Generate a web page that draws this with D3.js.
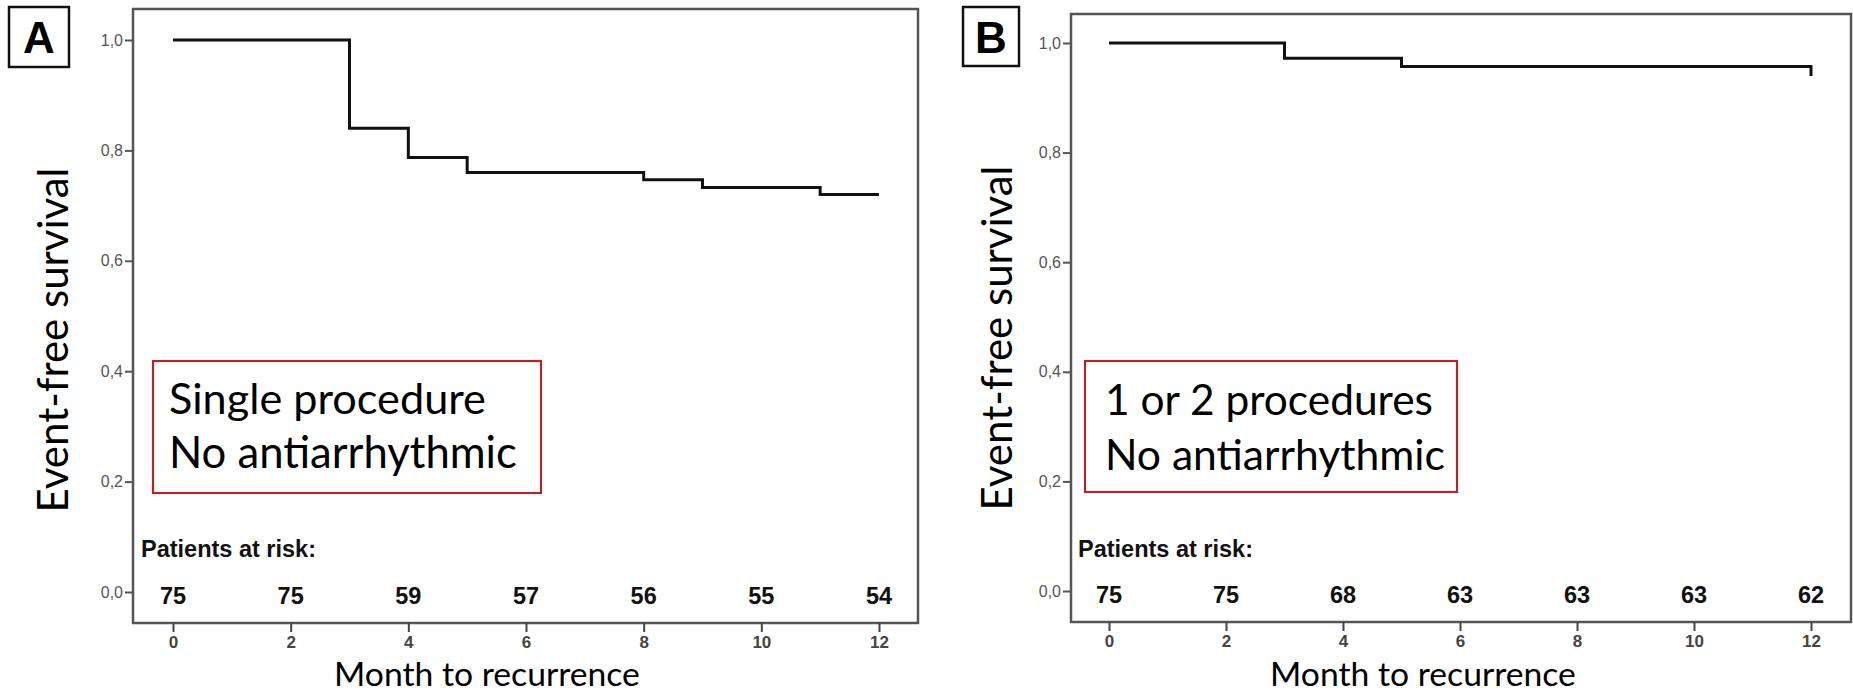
<!DOCTYPE html>
<html>
<head>
<meta charset="utf-8">
<script src="https://cdn.jsdelivr.net/npm/d3@7"></script>
<style>
  html, body { margin: 0; padding: 0; background: #fff; }
  svg { display: block; }
</style>
</head>
<body>
<svg id="chart" width="1853" height="693"></svg>
<script>
// ---------------- DATA ----------------
const monthTicks = [0, 2, 4, 6, 8, 10, 12];
const survivalTicks = [0, 0.2, 0.4, 0.6, 0.8, 1.0];
const panelLetters = ["A", "B"];

const atRiskA = [75, 75, 59, 57, 56, 55, 54];
const atRiskB = [75, 75, 68, 63, 63, 63, 62];

const timesA = [0, 3, 4, 5, 8, 9, 11, 12];
const survA  = [1.0, 0.84, 0.787, 0.76, 0.747, 0.733, 0.72, 0.72];

const timesB = [0, 3, 5, 12];
const survB  = [1.0, 0.972, 0.957, 0.94];

const legendA = ["Single procedure", "No antiarrhythmic"];
const legendB = ["1 or 2 procedures", "No antiarrhythmic"];

const yTitle = "Event-free survival";
const xTitle = "Month to recurrence";
const atRiskTitle = "Patients at risk:";

// ---------------- LAYOUT ----------------
const panels = [
  { letter: panelLetters[0], times: timesA, surv: survA, risk: atRiskA, legend: legendA,
    frame: {x0: 133, x1: 918, y0: 9, y1: 623},
    xr: [173, 879], yr: [592, 40],
    box: {x: 9, y: 7, w: 60, h: 60},
    legBox: {x: 153, y: 361, w: 388, h: 132}, legTextX: 169, legBase: [414, 468],
    yTitle: {x: 68, y: 340}, xTitleX: 487, riskX: 141 },
  { letter: panelLetters[1], times: timesB, surv: survB, risk: atRiskB, legend: legendB,
    frame: {x0: 1071, x1: 1851, y0: 14, y1: 622},
    xr: [1109, 1811], yr: [591, 43],
    box: {x: 963, y: 7, w: 56, h: 59},
    legBox: {x: 1085, y: 361, w: 372, h: 131}, legTextX: 1105, legBase: [415, 470],
    yTitle: {x: 1012, y: 338}, xTitleX: 1423, riskX: 1078 }
];

const svg = d3.select("#chart");
const calibri = "Lato, 'Open Sans', sans-serif";
const arial = "'Liberation Sans', Arial, sans-serif";

function fitText(sel, target) {
  const n = sel.node();
  const w = n.getComputedTextLength();
  const fs = parseFloat(sel.attr("font-size"));
  if (w > 0) sel.attr("font-size", (fs * target / w).toFixed(2));
}

panels.forEach(p => {
  const g = svg.append("g");
  const x = d3.scaleLinear().domain([0, 12]).range(p.xr);
  const y = d3.scaleLinear().domain([0, 1]).range(p.yr);

  // frame
  g.append("rect")
    .attr("x", p.frame.x0).attr("y", p.frame.y0)
    .attr("width", p.frame.x1 - p.frame.x0).attr("height", p.frame.y1 - p.frame.y0)
    .attr("fill", "none").attr("stroke", "#555").attr("stroke-width", 2.5);

  // y axis
  const yAxis = d3.axisLeft(y).tickValues(survivalTicks)
    .tickFormat(d => d3.format(".1f")(d).replace(".", ","))
    .tickSize(8).tickSizeOuter(0).tickPadding(2);
  const ya = g.append("g").attr("transform", `translate(${p.frame.x0},0)`).call(yAxis);
  ya.select(".domain").remove();
  ya.selectAll("line").attr("stroke", "#555").attr("stroke-width", 2);
  ya.selectAll("text").attr("font-family", arial).attr("font-size", 16).attr("fill", "#555");

  // x axis
  const xAxis = d3.axisBottom(x).tickValues(monthTicks).tickFormat(d3.format("d"))
    .tickSize(9).tickSizeOuter(0).tickPadding(4);
  const xa = g.append("g").attr("transform", `translate(0,${p.frame.y1})`).call(xAxis);
  xa.select(".domain").remove();
  xa.selectAll("line").attr("stroke", "#444").attr("stroke-width", 2);
  xa.selectAll("text").attr("font-family", arial).attr("font-size", 17)
    .attr("font-weight", "bold").attr("fill", "#444");

  // survival step line
  const pts = p.times.map((t, i) => [t, p.surv[i]]);
  const line = d3.line().x(d => x(d[0])).y(d => y(d[1])).curve(d3.curveStepAfter);
  g.append("path").datum(pts).attr("d", line)
    .attr("fill", "none").attr("stroke", "#111").attr("stroke-width", 3);

  // patients at risk
  g.append("text").attr("x", p.riskX).attr("y", 557)
    .attr("font-family", arial).attr("font-weight", "bold").attr("font-size", 23.5)
    .attr("fill", "#111").text(atRiskTitle);
  g.selectAll(".risk").data(p.risk).enter().append("text")
    .attr("x", (d, i) => x(monthTicks[i])).attr("y", y(0) + 12)
    .attr("text-anchor", "middle")
    .attr("font-family", arial).attr("font-weight", "bold").attr("font-size", 23.5)
    .attr("fill", "#111").text(d => d);

  // legend box
  g.append("rect").attr("x", p.legBox.x).attr("y", p.legBox.y)
    .attr("width", p.legBox.w).attr("height", p.legBox.h)
    .attr("fill", "#fff").attr("stroke", "#a82a2a").attr("stroke-width", 2.2);
  p.legend.forEach((s, i) => {
    const t = g.append("text").attr("x", p.legTextX).attr("y", p.legBase[i])
      .attr("font-family", calibri).attr("font-size", 44).attr("fill", "#000").text(s);
    fitText(t, i === 0 ? (p.letter === "A" ? 317 : 328) : (p.letter === "A" ? 348 : 340));
  });

  // y title
  const yt = g.append("text")
    .attr("transform", `translate(${p.yTitle.x},${p.yTitle.y}) rotate(-90)`)
    .attr("text-anchor", "middle")
    .attr("font-family", calibri).attr("font-size", 44).attr("fill", "#000").text(yTitle);
  fitText(yt, 345);

  // x title
  const xt = g.append("text").attr("x", p.xTitleX).attr("y", 686)
    .attr("text-anchor", "middle")
    .attr("font-family", calibri).attr("font-size", 34).attr("fill", "#000").text(xTitle);
  fitText(xt, 306);

  // panel letter box
  g.append("rect").attr("x", p.box.x).attr("y", p.box.y)
    .attr("width", p.box.w).attr("height", p.box.h)
    .attr("fill", "#fff").attr("stroke", "#111").attr("stroke-width", 2.5);
  g.append("text").attr("x", p.box.x + p.box.w / 2).attr("y", p.box.y + 46)
    .attr("text-anchor", "middle")
    .attr("font-family", arial).attr("font-weight", "bold").attr("font-size", 44)
    .attr("fill", "#000").text(p.letter);
});
</script>
</body>
</html>
